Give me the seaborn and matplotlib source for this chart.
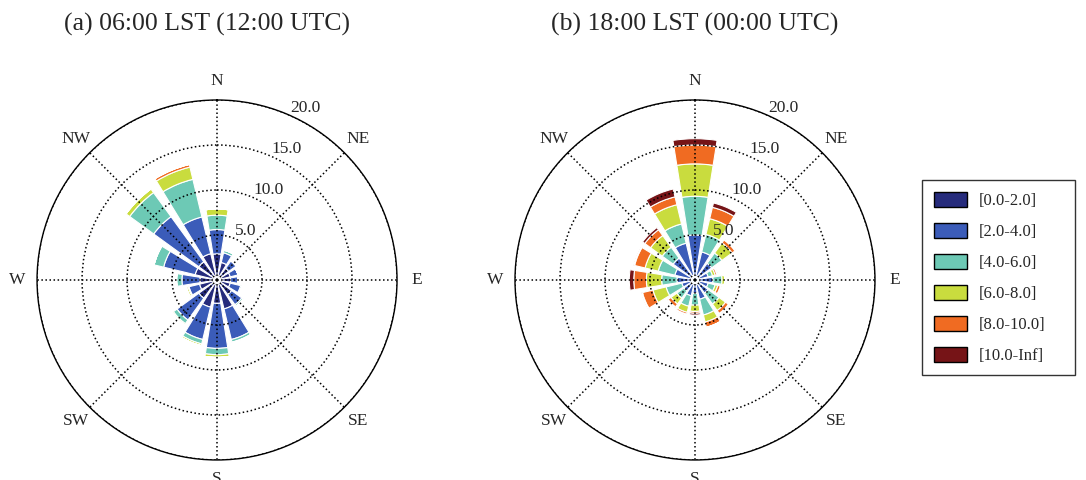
import numpy as np
import matplotlib
matplotlib.use("Agg")
import matplotlib.pyplot as plt
from matplotlib.patches import Patch
import seaborn as sns

# Wind directions (16 sectors, clockwise from north)
directions = ["N", "NNE", "NE", "ENE", "E", "ESE", "SE", "SSE",
              "S", "SSW", "SW", "WSW", "W", "WNW", "NW", "NNW"]
speed_bins = ["[0.0-2.0]", "[2.0-4.0]", "[4.0-6.0]", "[6.0-8.0]", "[8.0-10.0]", "[10.0-Inf]"]
bin_colors = ["#262b7c", "#3b5cb9", "#6dc9b5", "#c9dc3e", "#f06b22", "#761417"]

# (a) 06:00 LST - frequency (%) per speed bin, one list per bin
a_0_2 = [2.9, 2.0, 1.6, 1.5, 1.5, 1.5, 2.0, 3.3, 2.6, 3.1, 2.5, 2.0, 1.9, 2.5, 2.5, 3.0]
a_2_4 = [2.7, 1.1, 1.0, 0.9, 0.8, 1.2, 1.4, 3.5, 5.0, 3.7, 3.0, 1.2, 2.0, 3.6, 6.2, 4.2]
a_4_6 = [1.6, 0.3, 0.1, 0.0, 0.0, 0.15, 0.2, 0.3, 0.7, 0.5, 0.5, 0.1, 0.6, 1.1, 3.3, 4.3]
a_6_8 = [0.7, 0.0, 0.0, 0.0, 0.0, 0.0, 0.0, 0.05, 0.3, 0.2, 0.15, 0.2, 0.0, 0.0, 0.5, 1.4]
a_8_10 = [0.0, 0.0, 0.0, 0.0, 0.0, 0.0, 0.0, 0.0, 0.0, 0.0, 0.0, 0.0, 0.0, 0.0, 0.0, 0.3]
a_10_inf = [0.0] * 16

# (b) 18:00 LST
b_0_2 = [0.5, 0.4, 0.4, 0.3, 0.4, 0.3, 0.4, 0.4, 0.4, 0.4, 0.3, 0.4, 0.5, 0.4, 0.5, 0.5]
b_2_4 = [4.5, 2.8, 1.9, 1.2, 1.6, 1.2, 1.4, 1.8, 1.1, 1.4, 1.2, 1.1, 1.5, 1.9, 2.5, 3.7]
b_4_6 = [4.3, 2.0, 1.4, 0.5, 1.0, 0.8, 1.5, 1.8, 1.3, 1.2, 1.0, 1.8, 1.7, 1.9, 1.5, 2.2]
b_6_8 = [3.6, 1.8, 1.4, 0.3, 0.3, 0.3, 0.9, 0.8, 0.7, 0.7, 0.8, 1.5, 1.7, 1.5, 1.6, 2.2]
b_8_10 = [2.1, 1.3, 0.4, 0.2, 0.0, 0.3, 0.4, 0.6, 0.2, 0.2, 0.4, 1.2, 1.4, 1.2, 0.8, 0.9]
b_10_inf = [0.7, 0.5, 0.1, 0.1, 0.0, 0.1, 0.1, 0.0, 0.2, 0.1, 0.1, 0.1, 0.5, 0.1, 0.3, 0.9]

panels = [
    ("(a) 06:00 LST (12:00 UTC)", [a_0_2, a_2_4, a_4_6, a_6_8, a_8_10, a_10_inf]),
    ("(b) 18:00 LST (00:00 UTC)", [b_0_2, b_2_4, b_4_6, b_6_8, b_8_10, b_10_inf]),
]

sns.set_theme(style="white")
plt.rcParams["font.family"] = ["Liberation Serif", "DejaVu Serif"]

fig = plt.figure(figsize=(10.86, 4.8), dpi=100)
axes_rects = [[0.0341, 0.0417, 0.3315, 0.75], [0.4742, 0.0417, 0.3315, 0.75]]
title_x = [0.1906, 0.640]

theta = np.deg2rad(np.arange(16) * 22.5)
width = np.deg2rad(22.5) * 0.8

for rect, (title, bins), tx in zip(axes_rects, panels, title_x):
    ax = fig.add_axes(rect, projection="polar")
    ax.set_theta_zero_location("N")
    ax.set_theta_direction(-1)
    bottom = np.zeros(16)
    for vals, color in zip(bins, bin_colors):
        vals = np.asarray(vals)
        ax.bar(theta, vals, width=width, bottom=bottom, color=color,
               edgecolor="white", linewidth=0.8, zorder=1.5)
        bottom = bottom + vals
    ax.set_ylim(0, 20)
    ax.set_axisbelow(False)  # grid and labels drawn over the bars
    ax.set_rgrids([5, 10, 15, 20], labels=["5.0", "10.0", "15.0", "20.0"], angle=24)
    ax.set_thetagrids(np.arange(0, 360, 45), labels=["N", "NE", "E", "SE", "S", "SW", "W", "NW"])
    ax.tick_params(axis="x", pad=1, labelsize=12.5)
    ax.tick_params(axis="y", labelsize=12.5)
    ax.grid(True, color="black", linestyle=":", linewidth=1.1)
    ax.spines["polar"].set_color("black")
    ax.spines["polar"].set_linewidth(1.0)
    fig.text(tx, 0.95, title, ha="center", va="center", fontsize=18.5)

leg_handles = [Patch(facecolor=c, edgecolor="black", linewidth=1.0) for c in bin_colors]
leg = fig.legend(leg_handles, speed_bins, loc="upper left",
                 bbox_to_anchor=(0.849, 0.225, 0.1409, 0.4), mode="expand",
                 fontsize=12, frameon=True, fancybox=False, edgecolor="black",
                 handlelength=2.0, handleheight=1.0, labelspacing=0.83,
                 borderpad=0.7, handletextpad=0.7, borderaxespad=0)
leg.get_frame().set_linewidth(1.0)

fig.savefig("out.png", dpi=100)
